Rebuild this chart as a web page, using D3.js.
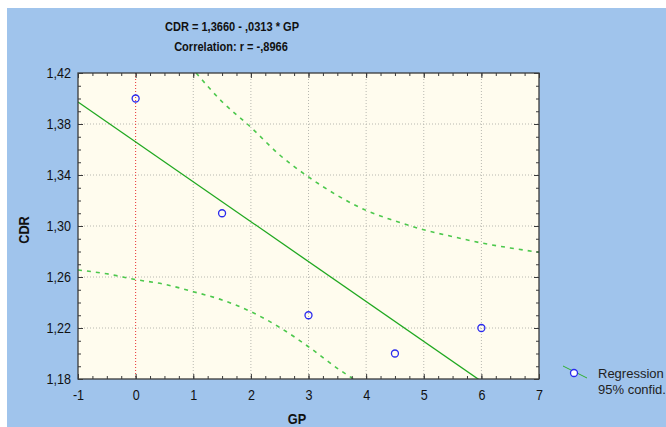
<!DOCTYPE html>
<html>
<head>
<meta charset="utf-8">
<title>CDR vs GP</title>
<script src="https://cdnjs.cloudflare.com/ajax/libs/d3/7.8.5/d3.min.js"></script>
<style>
  body { margin: 0; background: #fff; }
  svg text { font-family: "Liberation Sans", Arial, sans-serif; fill: #111; }
  .title { font-weight: bold; font-size: 13px; text-anchor: middle; }
  .axis-title { font-weight: bold; font-size: 15px; text-anchor: middle; }
  .tick-label { font-size: 15px; }
  .legend text { font-size: 13px; fill: #222; }
  .grid line { stroke: #b8b8b0; stroke-dasharray: 1,2; }
</style>
</head>
<body>
<svg id="chart" width="666" height="427"></svg>
<script>

// regression coefficients (from the title)
var intercept = 1.3660,
    slope = -0.0313,
    corr = "-,8966";

// observed points
var gp  = [0, 1.5, 3, 4.5, 6];
var cdr = [1.40, 1.31, 1.23, 1.20, 1.22];

// 95% confidence band
var upperX = [1.05, 1.5, 2, 2.5, 3, 3.5, 4, 4.5, 5, 5.5, 6, 6.5, 7];
var upperY = [1.420, 1.3975, 1.3774, 1.3557, 1.3385, 1.3240, 1.3122, 1.3040, 1.2970, 1.2917, 1.2867, 1.2828, 1.2794];
var lowerX = [-1, -0.5, 0, 0.5, 1, 1.5, 2, 2.5, 3, 3.5, 3.78];
var lowerY = [1.2655, 1.2625, 1.258, 1.2543, 1.2485, 1.242, 1.2328, 1.2205, 1.2053, 1.1884, 1.18];

var xTicks = [-1, 0, 1, 2, 3, 4, 5, 6, 7];
var xTickLabels = ["-1", "0", "1", "2", "3", "4", "5", "6", "7"];
var yTicks = [1.18, 1.22, 1.26, 1.30, 1.34, 1.38, 1.42];
var yTickLabels = ["1,18", "1,22", "1,26", "1,30", "1,34", "1,38", "1,42"];

var pLeft = 78, pRight = 539, pTop = 73, pBottom = 379;
var narrow = 0.84;

var x = d3.scaleLinear().domain([-1, 7]).range([pLeft, pRight]);
var y = d3.scaleLinear().domain([1.18, 1.42]).range([pBottom, pTop]);

var svg = d3.select("#chart");

// blue panel
svg.append("rect")
    .attr("x", 7).attr("y", 8)
    .attr("width", 659).attr("height", 419)
    .attr("fill", "#a0c4ec");

// plot area
svg.append("rect")
    .attr("x", pLeft).attr("y", pTop)
    .attr("width", pRight - pLeft).attr("height", pBottom - pTop)
    .attr("fill", "#fffcee");

svg.append("clipPath").attr("id", "clip")
  .append("rect")
    .attr("x", pLeft).attr("y", pTop)
    .attr("width", pRight - pLeft).attr("height", pBottom - pTop);

// grid
var grid = svg.append("g").attr("class", "grid");
grid.selectAll(".gx")
    .data(xTicks.filter(function(d) { return d > -1 && d < 7 && d !== 0; }))
  .enter().append("line")
    .attr("x1", function(d) { return x(d); })
    .attr("x2", function(d) { return x(d); })
    .attr("y1", pTop).attr("y2", pBottom);
grid.selectAll(".gy")
    .data(yTicks.slice(1, -1))
  .enter().append("line")
    .attr("y1", function(d) { return y(d); })
    .attr("y2", function(d) { return y(d); })
    .attr("x1", pLeft).attr("x2", pRight);

// red zero line
svg.append("line")
    .attr("x1", x(0)).attr("x2", x(0))
    .attr("y1", pTop).attr("y2", pBottom)
    .attr("stroke", "#e83030")
    .attr("stroke-dasharray", "1,2");

var plot = svg.append("g").attr("clip-path", "url(#clip)");

// confidence bands
var line = d3.line()
    .x(function(d) { return x(d[0]); })
    .y(function(d) { return y(d[1]); })
    .curve(d3.curveMonotoneX);

plot.append("path")
    .datum(d3.zip(upperX, upperY))
    .attr("d", line)
    .attr("fill", "none")
    .attr("stroke", "#4cc84c")
    .attr("stroke-width", 1.6)
    .attr("stroke-dasharray", "4,5");

plot.append("path")
    .datum(d3.zip(lowerX, lowerY))
    .attr("d", line)
    .attr("fill", "none")
    .attr("stroke", "#4cc84c")
    .attr("stroke-width", 1.6)
    .attr("stroke-dasharray", "4,5");

// regression line
plot.append("line")
    .attr("x1", x(-1)).attr("y1", y(intercept + slope * -1))
    .attr("x2", x(7)).attr("y2", y(intercept + slope * 7))
    .attr("stroke", "#20a820")
    .attr("stroke-width", 1.3);

// points
svg.selectAll(".pt")
    .data(d3.zip(gp, cdr))
  .enter().append("circle")
    .attr("cx", function(d) { return x(d[0]); })
    .attr("cy", function(d) { return y(d[1]); })
    .attr("r", 3.5)
    .attr("fill", "none")
    .attr("stroke", "#2a2aee")
    .attr("stroke-width", 1.3);

// frame
svg.append("rect")
    .attr("x", pLeft).attr("y", pTop)
    .attr("width", pRight - pLeft).attr("height", pBottom - pTop)
    .attr("fill", "none")
    .attr("stroke", "#3a3a3a")
    .attr("stroke-width", 1.3);

// inward tick marks on all four sides
var xMinor = d3.range(-1, 7.001, 0.25);
var yMinor = d3.range(1.18, 1.4201, 0.01);

function ticks(axis, tr, values, size) {
  var g = svg.append("g")
      .attr("transform", tr)
      .call(axis.tickValues(values).tickSize(size).tickFormat(""));
  g.select(".domain").remove();
  g.selectAll("line").attr("stroke", "#3a3a3a");
}
ticks(d3.axisBottom(x), "translate(0," + pBottom + ")", xMinor, -3);
ticks(d3.axisBottom(x), "translate(0," + pBottom + ")", xTicks, -5);
ticks(d3.axisTop(x), "translate(0," + pTop + ")", xMinor, -3);
ticks(d3.axisTop(x), "translate(0," + pTop + ")", xTicks, -5);
ticks(d3.axisLeft(y), "translate(" + pLeft + ",0)", yMinor, -3);
ticks(d3.axisLeft(y), "translate(" + pLeft + ",0)", yTicks, -5);
ticks(d3.axisRight(y), "translate(" + pRight + ",0)", yMinor, -3);
ticks(d3.axisRight(y), "translate(" + pRight + ",0)", yTicks, -5);

// tick labels (condensed look via horizontal scale)
var xAxis = svg.append("g")
    .attr("transform", "translate(0," + pBottom + ")")
    .call(d3.axisBottom(x).tickValues(xTicks).tickSize(0).tickPadding(10)
      .tickFormat(function(d, i) { return xTickLabels[i]; }));
xAxis.select(".domain").remove();
xAxis.selectAll("text")
    .attr("class", "tick-label")
    .attr("fill", "#111")
    .attr("transform", "scale(" + narrow + ",1)");

var yAxis = svg.append("g")
    .attr("transform", "translate(" + pLeft + ",0)")
    .call(d3.axisLeft(y).tickValues(yTicks).tickSize(0).tickPadding(0)
      .tickFormat(function(d, i) { return yTickLabels[i]; }));
yAxis.select(".domain").remove();
yAxis.selectAll("text")
    .attr("class", "tick-label")
    .attr("fill", "#111")
    .attr("x", 0)
    .attr("transform", "translate(-7,0) scale(" + narrow + ",1)");

// titles
function narrowText(cls, tx, ty, str, rot) {
  return svg.append("text").attr("class", cls)
      .attr("transform", "translate(" + tx + "," + ty + ")" + (rot ? " rotate(-90)" : "") + " scale(0.85,1)")
      .text(str);
}
narrowText("title", 232, 31, "CDR = 1,3660 - ,0313 * GP");
narrowText("title", 231, 51, "Correlation: r = " + corr);
narrowText("axis-title", 297, 424, "GP");
narrowText("axis-title", 29, 230, "CDR", true);

// legend
var legend = svg.append("g").attr("class", "legend");
legend.append("line")
    .attr("x1", 563).attr("y1", 366)
    .attr("x2", 587).attr("y2", 378)
    .attr("stroke", "#30b030");
legend.append("circle")
    .attr("cx", 574).attr("cy", 373).attr("r", 3.5)
    .attr("fill", "#fff")
    .attr("stroke", "#2a2aee")
    .attr("stroke-width", 1.3);
legend.append("text").attr("x", 598).attr("y", 378).text("Regression");
legend.append("text").attr("x", 598).attr("y", 394).text("95% confid.");

</script>
</body>
</html>
